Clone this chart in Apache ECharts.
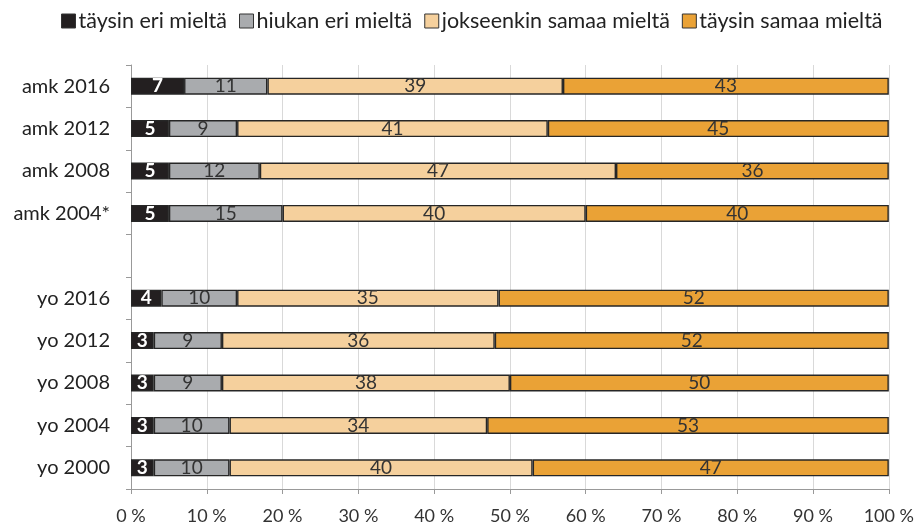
<!DOCTYPE html>
<html>
<head>
<meta charset="utf-8">
<script src="https://cdn.jsdelivr.net/npm/echarts@6/dist/echarts.min.js"></script>
<style>
  html, body { margin: 0; padding: 0; background: #fff; }
  #chart { width: 917px; height: 525px; }
</style>
</head>
<body>
<div id="chart"></div>
<script>
  // rivit ylhäältä alas, tyhjä rivi erottaa amk- ja yo-ryhmät
  var categories = ['amk 2016', 'amk 2012', 'amk 2008', 'amk 2004*', '',
                    'yo 2016', 'yo 2012', 'yo 2008', 'yo 2004', 'yo 2000'];
  var seriesNames = ['täysin eri mieltä', 'hiukan eri mieltä', 'jokseenkin samaa mieltä', 'täysin samaa mieltä'];
  var taysinEri   = [7, 5, 5, 5, null, 4, 3, 3, 3, 3];
  var hiukanEri   = [11, 9, 12, 15, null, 10, 9, 9, 10, 10];
  var jokseenkin  = [39, 41, 47, 40, null, 34.5, 36, 38, 34, 40];
  var taysinSamaa = [43, 45, 36, 40, null, 51.5, 52, 50, 53, 47];
  var xTicks = [0, 10, 20, 30, 40, 50, 60, 70, 80, 90, 100];

  var colors = ['#231f20', '#a9abae', '#f5d09d', '#eaa236'];
  var font = 'Lato, "Open Sans", sans-serif';

  var chart = echarts.init(document.getElementById('chart'));

  function makeSeries(name, data, idx) {
    return {
      name: name,
      type: 'bar',
      stack: 'total',
      barWidth: '40%',
      data: data,
      itemStyle: {
        color: colors[idx],
        borderColor: '#262626',
        borderWidth: 1.4
      },
      label: {
        show: true,
        position: 'inside',
        fontFamily: font,
        fontSize: 19,
        fontWeight: idx === 0 ? 'bold' : 'normal',
        color: idx === 0 ? '#fff' : '#333',
        formatter: function (p) {
          return p.value == null ? '' : Math.round(p.value);
        }
      }
    };
  }

  var option = {
    animation: false,
    textStyle: { fontFamily: font },
    legend: {
      top: 5,
      left: 56,
      width: 861,
      itemWidth: 14,
      itemHeight: 14,
      itemGap: 12,
      textStyle: { fontSize: 21.5, color: '#222', fontFamily: font, padding: [0, 0, 0, -2] },
      data: seriesNames.map(function (n, i) {
        return { name: n, icon: 'rect', itemStyle: { borderColor: '#333', borderWidth: 1 } };
      })
    },
    grid: {
      left: 131,
      right: 27,
      top: 65,
      bottom: 36,
      containLabel: false
    },
    xAxis: {
      type: 'value',
      min: 0,
      max: 100,
      interval: 10,
      axisLine: { show: true, lineStyle: { color: '#999', width: 1 } },
      axisTick: { show: true, length: 5, lineStyle: { color: '#999' } },
      splitLine: { show: true, lineStyle: { color: '#d9d9d9', width: 1 } },
      axisLabel: {
        fontSize: 18,
        color: '#333',
        margin: 18,
        formatter: function (v) { return xTicks.indexOf(v) >= 0 ? v + ' %' : ''; }
      }
    },
    yAxis: {
      type: 'category',
      inverse: true,
      data: categories,
      axisLine: { show: true, lineStyle: { color: '#999', width: 1 } },
      axisTick: { show: true, length: 5, lineStyle: { color: '#999' } },
      axisLabel: { fontSize: 20, color: '#222', margin: 21 }
    },
    series: [
      makeSeries(seriesNames[0], taysinEri, 0),
      makeSeries(seriesNames[1], hiukanEri, 1),
      makeSeries(seriesNames[2], jokseenkin, 2),
      makeSeries(seriesNames[3], taysinSamaa, 3)
    ]
  };

  chart.setOption(option);
</script>
</body>
</html>
